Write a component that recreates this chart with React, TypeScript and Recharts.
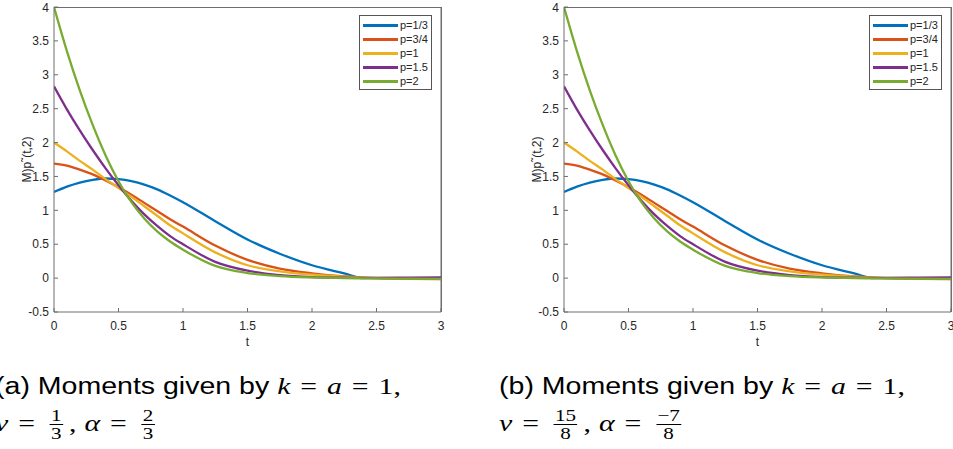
import React from 'react';
import { LineChart, Line, XAxis, YAxis, Legend, CartesianGrid } from 'recharts';

// t grid and the five curves
const tValues = [0, 0.1, 0.2, 0.3, 0.4, 0.5, 0.6, 0.7, 0.8, 0.9, 1.0, 1.25, 1.5, 1.75, 2.0, 2.25, 2.4, 2.5, 2.75, 3.0];
const p13 = [1.27, 1.35, 1.41, 1.45, 1.47, 1.46, 1.43, 1.38, 1.31, 1.22, 1.12, 0.84, 0.57, 0.36, 0.19, 0.07, 0.0, 0.0, 0.0, 0.0];
const p34 = [1.69, 1.66, 1.6, 1.53, 1.44, 1.34, 1.23, 1.11, 0.99, 0.87, 0.76, 0.48, 0.27, 0.14, 0.07, 0.025, 0.008, 0.0, -0.01, -0.015];
const p1 = [2.0, 1.87, 1.73, 1.6, 1.46, 1.33, 1.2, 1.06, 0.92, 0.78, 0.66, 0.38, 0.19, 0.1, 0.05, 0.02, 0.008, 0.003, 0, 0];
const p15 = [2.83, 2.49, 2.18, 1.89, 1.62, 1.37, 1.14, 0.94, 0.77, 0.62, 0.5, 0.24, 0.11, 0.045, 0.015, 0.005, 0.003, 0.003, 0.006, 0.01];
const p2 = [4.0, 3.35, 2.77, 2.26, 1.81, 1.43, 1.12, 0.88, 0.69, 0.54, 0.42, 0.18, 0.075, 0.03, 0.01, 0.0, -0.003, -0.005, -0.008, -0.01];

const seriesNames = ['p=1/3', 'p=3/4', 'p=1', 'p=1.5', 'p=2'];
const seriesColors = ['#0072BD', '#D95319', '#EDB120', '#7E2F8E', '#77AC30'];
const seriesValues = [p13, p34, p1, p15, p2];

const xTicks = [0, 0.5, 1, 1.5, 2, 2.5, 3];
const yTicks = [-0.5, 0, 0.5, 1, 1.5, 2, 2.5, 3, 3.5, 4];
// box edges (top and right) drawn as grid lines
const boxTop = [4];
const boxRight = [3];

const rows = tValues.map((t, i) => {
  const row: any = { t };
  seriesValues.forEach((vals, k) => {
    row['s' + k] = vals[i];
  });
  return row;
});

const axisColor = '#6e6e6e';
const textColor = '#262626';
const tickFont = { fontSize: 12, fill: textColor, fontFamily: 'Liberation Sans, Arial, sans-serif' };

// chart size and margins; the plot frame overlay uses the same numbers
const chartW = 460;
const chartH = 360;
const margin = { top: 7, right: 19, bottom: 0, left: 0 };
const yAxisW = 54;
const xAxisH = 48;

const LegendBox = ({ payload }: any) => {
  const items = (payload || [])
    .filter((p: any) => seriesNames.includes(p.value))
    .sort((a: any, b: any) => seriesNames.indexOf(a.value) - seriesNames.indexOf(b.value));
  return (
    <div
      style={{
        border: '1px solid #555',
        background: '#fff',
        padding: '2px 3px 1px 3px',
        fontFamily: 'Liberation Sans, Arial, sans-serif',
        fontSize: 11,
        color: textColor,
        boxSizing: 'border-box',
        width: 73,
      }}
    >
      {items.map((p: any) => (
        <div key={p.value} style={{ display: 'flex', alignItems: 'center', height: 14 }}>
          <span style={{ display: 'inline-block', width: 35, height: 3, background: p.color, marginRight: 2 }} />
          <span>{p.value}</span>
        </div>
      ))}
    </div>
  );
};

const MomentChart = () => (
  <div style={{ position: 'relative', width: chartW, height: chartH }}>
    <LineChart width={chartW} height={chartH} data={rows} margin={margin}>
      <CartesianGrid
        xAxisId="b"
        yAxisId="l"
        horizontalValues={boxTop}
        verticalValues={boxRight}
        stroke={axisColor}
        strokeWidth={1}
      />
      <XAxis
        xAxisId="b"
        dataKey="t"
        type="number"
        domain={[0, 3]}
        ticks={xTicks}
        allowDataOverflow
        height={xAxisH}
        tickSize={-4}
        tickMargin={13}
        stroke={axisColor}
        tick={tickFont}
        label={{ value: 't', position: 'insideBottom', offset: 14, style: tickFont }}
      />
      <YAxis
        yAxisId="l"
        type="number"
        domain={[-0.5, 4]}
        ticks={yTicks}
        allowDataOverflow
        width={yAxisW}
        tickSize={-4}
        tickMargin={9}
        stroke={axisColor}
        tick={tickFont}
        label={{ value: 'M)p\u02DC(t,2)', angle: -90, position: 'center', style: tickFont }}
      />
      <Legend
        layout="vertical"
        align="center"
        verticalAlign="middle"
        content={<LegendBox />}
        wrapperStyle={{ position: 'absolute', left: 359, top: 15, width: 73 }}
      />
      {seriesNames.map((name, k) => (
        <Line
          key={name}
          xAxisId="b"
          yAxisId="l"
          type="monotone"
          dataKey={'s' + k}
          name={name}
          stroke={seriesColors[k]}
          strokeWidth={2.3}
          dot={false}
          isAnimationActive={false}
        />
      ))}
    </LineChart>
    {/* top and right edge of the MATLAB-style box */}
    <div
      style={{
        position: 'absolute',
        pointerEvents: 'none',
        left: margin.left + yAxisW,
        top: margin.top,
        width: chartW - margin.left - margin.right - yAxisW + 1,
        height: chartH - margin.top - margin.bottom - xAxisH,
        borderTop: `1px solid ${axisColor}`,
        borderRight: `1px solid ${axisColor}`,
        boxSizing: 'border-box',
      }}
    />
  </div>
);

const mathFont = 'Liberation Serif, DejaVu Serif, serif';
const textFont = 'Liberation Sans, Arial, sans-serif';

const Frac = ({ num, den }: { num: string; den: string }) => (
  <span
    style={{
      display: 'inline-flex',
      flexDirection: 'column',
      alignItems: 'center',
      verticalAlign: 'middle',
      fontFamily: mathFont,
      fontSize: 17,
      lineHeight: '17px',
      margin: '0 5px 0 4px',
    }}
  >
    <span style={{ padding: '0 1px' }}>{num}</span>
    <span style={{ borderTop: '1px solid #000', padding: '0 1px', alignSelf: 'stretch', textAlign: 'center' }}>{den}</span>
  </span>
);

const I = ({ children }: any) => (
  <span style={{ fontFamily: mathFont, fontStyle: 'italic', fontSize: 24 }}>{children}</span>
);
const Eq = () => <span style={{ fontFamily: mathFont, fontSize: 24, margin: '0 8px' }}>=</span>;
const M = ({ children }: any) => <span style={{ fontFamily: mathFont, fontSize: 24 }}>{children}</span>;

const lineStyle: React.CSSProperties = {
  position: 'absolute',
  left: 0,
  whiteSpace: 'nowrap',
  transform: 'scaleX(1.24)',
  transformOrigin: 'left top',
  lineHeight: '28px',
};

const Caption = ({ tag, nu, alpha }: { tag: string; nu: [string, string]; alpha: [string, string] }) => (
  <div style={{ position: 'relative', fontFamily: textFont, fontSize: 23, color: '#000' }}>
    <div style={{ ...lineStyle, top: 0 }}>
      ({tag}) Moments given by <I>k</I>
      <Eq />
      <I>a</I>
      <Eq />
      <M>1,</M>
    </div>
    <div style={{ ...lineStyle, top: 35 }}>
      <I>ν</I>
      <Eq />
      <Frac num={nu[0]} den={nu[1]} />
      <M>,</M> <I>α</I>
      <Eq />
      <Frac num={alpha[0]} den={alpha[1]} />
    </div>
  </div>
);

export default function App() {
  return (
    <div style={{ position: 'absolute', left: 0, top: 0, width: 953, height: 449, overflow: 'hidden', background: '#fff' }}>
      <div style={{ position: 'absolute', left: 0, top: 0 }}>
        <MomentChart />
      </div>
      <div style={{ position: 'absolute', left: 510, top: 0 }}>
        <MomentChart />
      </div>
      <div style={{ position: 'absolute', left: -5, top: 372 }}>
        <Caption tag="a" nu={['1', '3']} alpha={['2', '3']} />
      </div>
      <div style={{ position: 'absolute', left: 499, top: 372 }}>
        <Caption tag="b" nu={['15', '8']} alpha={['\u22127', '8']} />
      </div>
    </div>
  );
}
